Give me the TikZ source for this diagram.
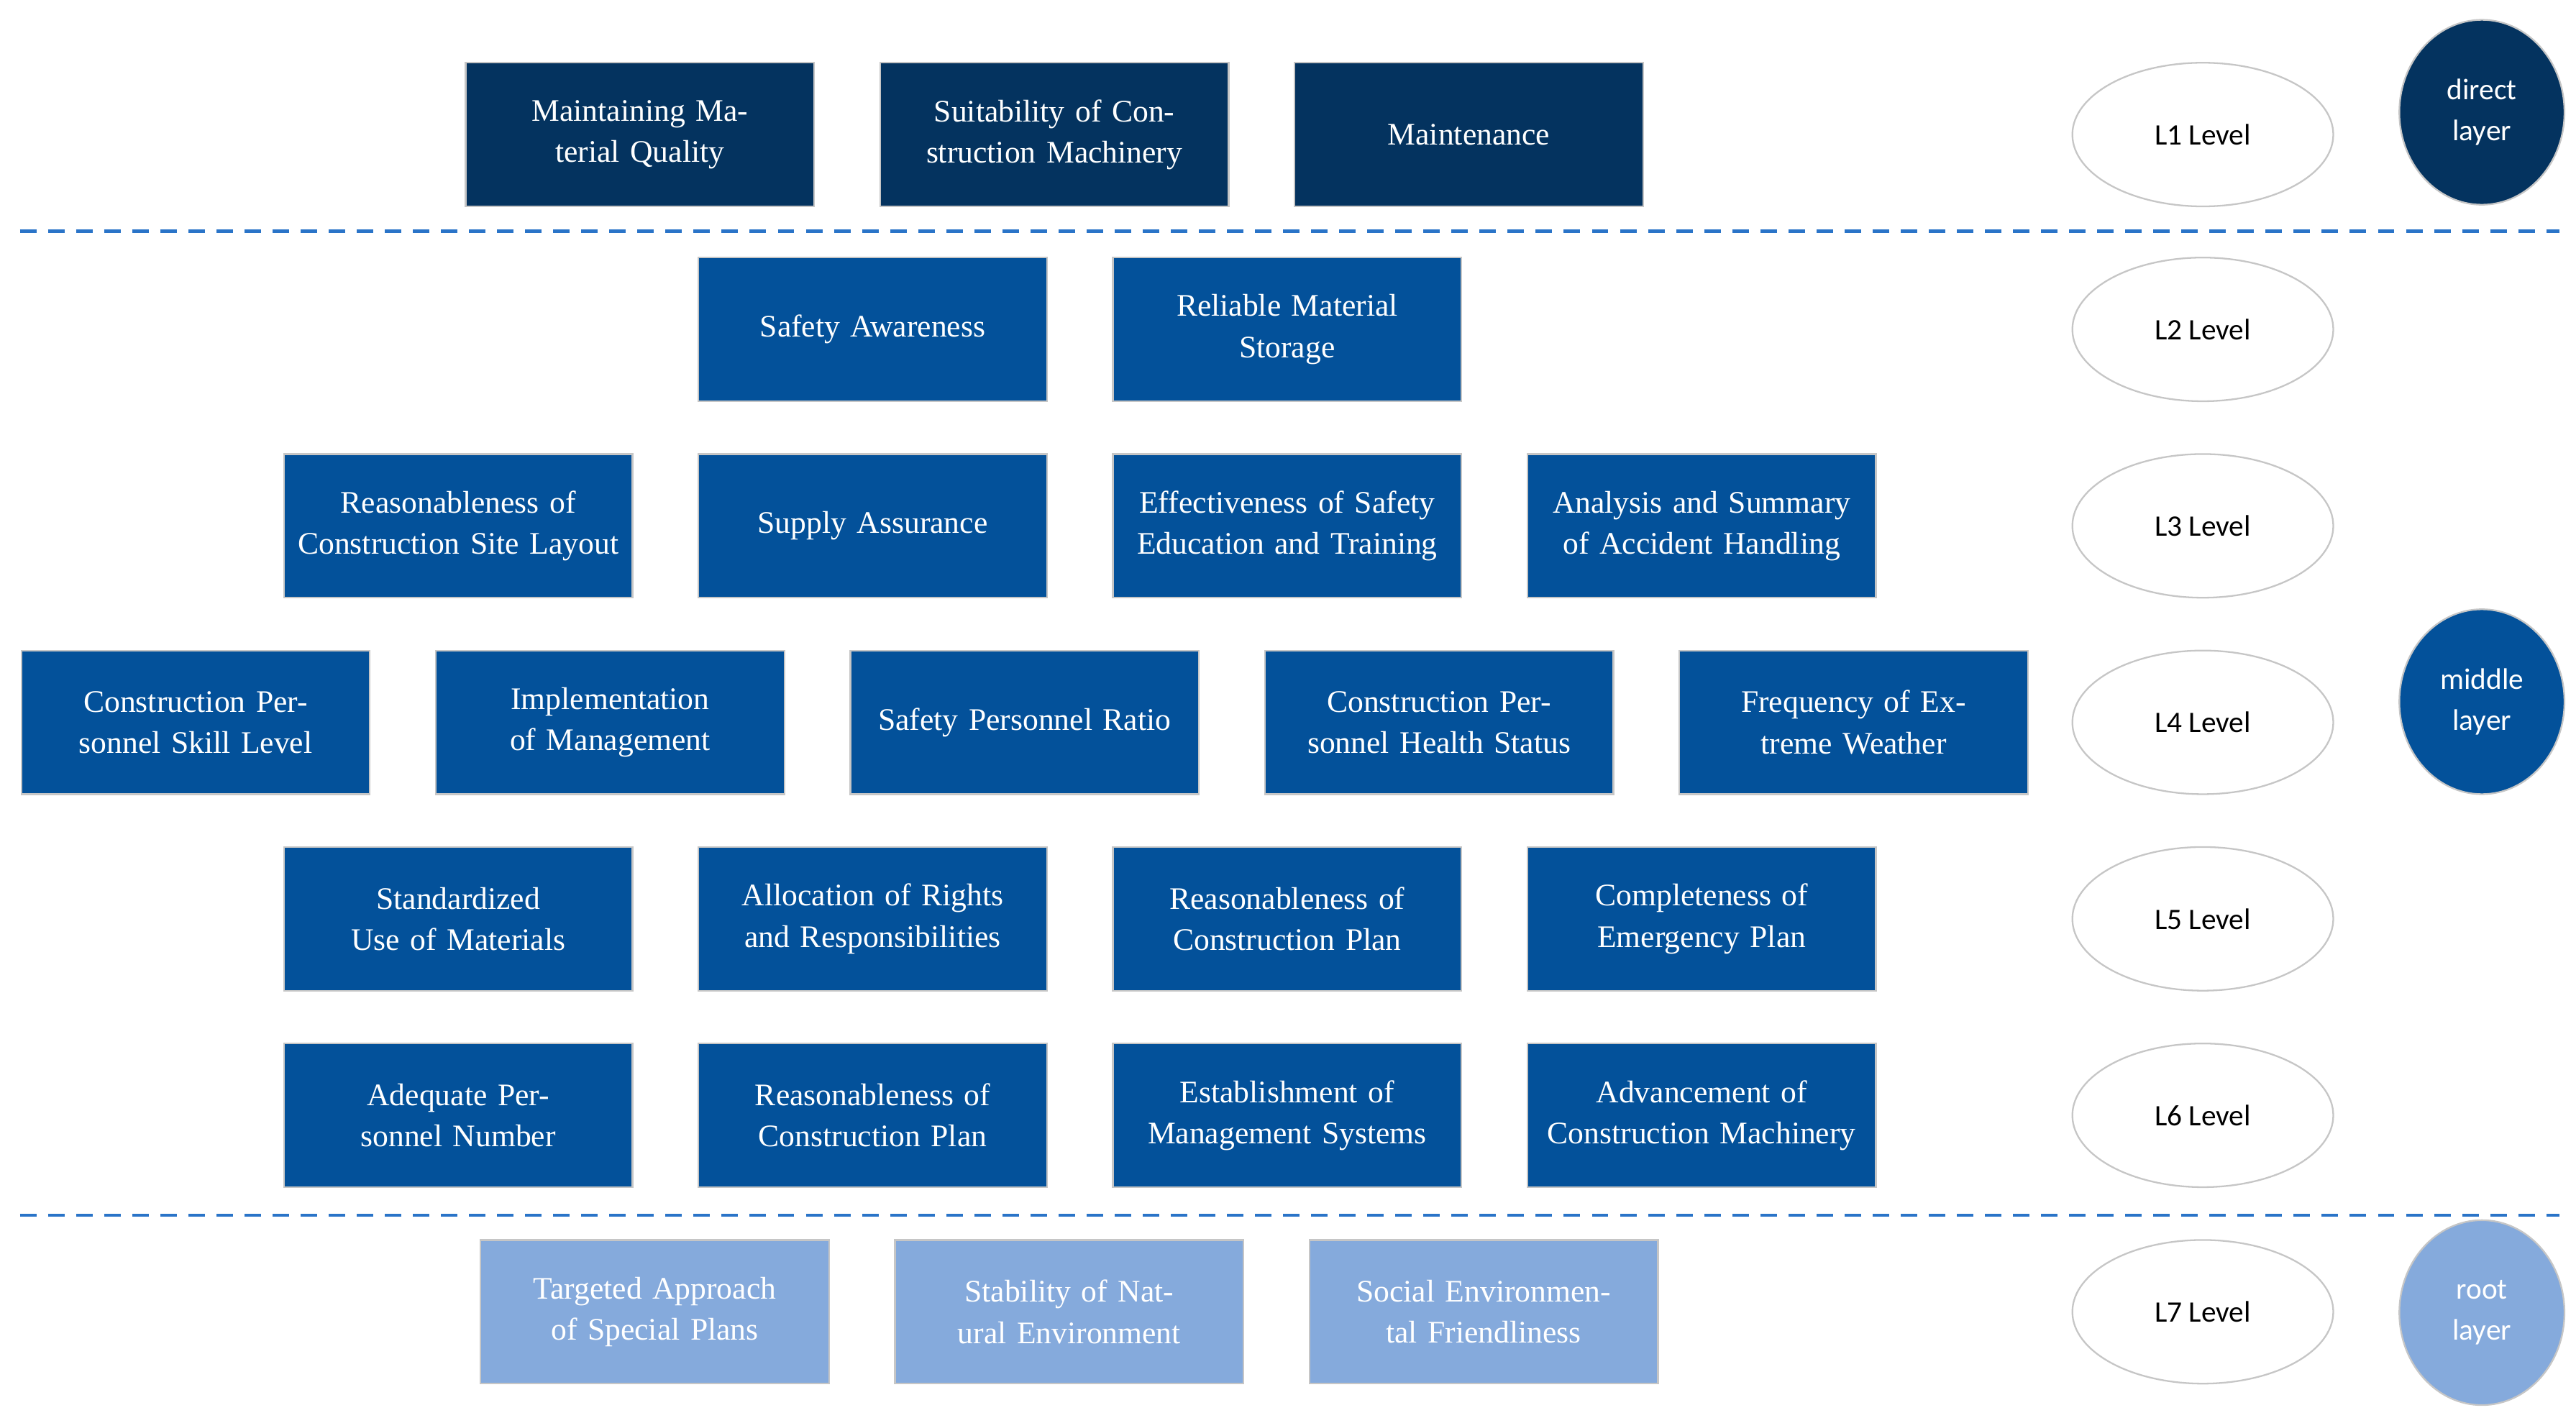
\documentclass[tikz,border=0pt]{standalone}
\usepackage{fontspec}
\usetikzlibrary{shapes.geometric}
\setmainfont{Liberation Serif}
\newfontfamily\calib{Carlito}
\definecolor{cdark}{HTML}{04335F}
\definecolor{cmid}{HTML}{03519A}
\definecolor{clight}{HTML}{85AADC}
\definecolor{cdash}{HTML}{2A74C8}
\begin{document}
\begin{tikzpicture}[x=1pt,y=-1pt,
 box/.style={draw=gray!45,line width=1pt,minimum width=211pt,minimum height=87pt,text width=200pt,align=center,text=white,font=\fontsize{19}{25}\selectfont,inner sep=0pt},
 dk/.style={box,fill=cdark}, md/.style={box,fill=cmid}, lt/.style={box,fill=clight},
 lev/.style={ellipse,draw=gray!45,line width=1pt,minimum width=158pt,minimum height=87pt,font=\calib\fontsize{18}{22}\selectfont,inner sep=0pt},
 lay/.style={ellipse,draw=gray!45,line width=1pt,minimum width=100pt,minimum height=112pt,text=white,align=center,font=\calib\fontsize{18}{25}\selectfont,inner sep=0pt},
 dsh/.style={cdash,line width=2pt,dash pattern=on 10pt off 7pt}]
\useasboundingbox (0,0) rectangle (1560,858.5);
% row 1
\node[dk] (a1) at (387.5,81.5) {Maintaining Material Quality};
\node[dk] (a2) at (638.5,81.5) {Suitability of Construction Machinery};
\node[dk] (a3) at (889.5,81.5) {Maintenance};
% row 2
\node[md] (b1) at (528.5,199.5) {Safety Awareness};
\node[md] (b2) at (779.5,199.5) {Reliable Material\\Storage};
% row 3
\node[md] (c1) at (277.5,318.5) {Reasonableness of Construction Site Layout};
\node[md] (c2) at (528.5,318.5) {Supply Assurance};
\node[md] (c3) at (779.5,318.5) {Effectiveness of Safety Education and Training};
\node[md] (c4) at (1030.5,318.5) {Analysis and Summary of Accident Handling};
% row 4
\node[md] (d1) at (118.5,437.5) {Construction Personnel Skill Level};
\node[md] (d2) at (369.5,437.5) {Implementation of Management};
\node[md] (d3) at (620.5,437.5) {Safety Personnel Ratio};
\node[md] (d4) at (871.5,437.5) {Construction Personnel Health Status};
\node[md] (d5) at (1122.5,437.5) {Frequency of Extreme Weather};
% row 5
\node[md] (e1) at (277.5,556.5) {Standardized Use of Materials};
\node[md] (e2) at (528.5,556.5) {Allocation of Rights and Responsibilities};
\node[md] (e3) at (779.5,556.5) {Reasonableness of Construction Plan};
\node[md] (e4) at (1030.5,556.5) {Completeness of Emergency Plan};
% row 6
\node[md] (f1) at (277.5,675.5) {Adequate Personnel Number};
\node[md] (f2) at (528.5,675.5) {Reasonableness of Construction Plan};
\node[md] (f3) at (779.5,675.5) {Establishment of Management Systems};
\node[md] (f4) at (1030.5,675.5) {Advancement of Construction Machinery};
% row 7
\node[lt] (g1) at (396.5,794.5) {Targeted Approach of Special Plans};
\node[lt] (g2) at (647.5,794.5) {Stability of Natural Environment};
\node[lt] (g3) at (898.5,794.5) {Social Environmental Friendliness};
% levels
\foreach \i/\y in {1/81.5,2/199.5,3/318.5,4/437.5,5/556.5,6/675.5,7/794.5}
  \node[lev] (L\i) at (1334,\y) {L\i{} Level};
\node[lay,fill=cdark] (ly1) at (1503,68) {direct\\layer};
\node[lay,fill=cmid] (ly2) at (1503,425) {middle\\layer};
\node[lay,fill=clight] (ly3) at (1503,795) {root\\layer};
% dashed separators
\coordinate (s1) at (12,140); \coordinate (s2) at (1550,140);
\coordinate (t1) at (12,736); \coordinate (t2) at (1550,736);
\draw[dsh] (s1) -- (s2);
\draw[dsh] (t1) -- (t2);
\end{tikzpicture}
\end{document}
